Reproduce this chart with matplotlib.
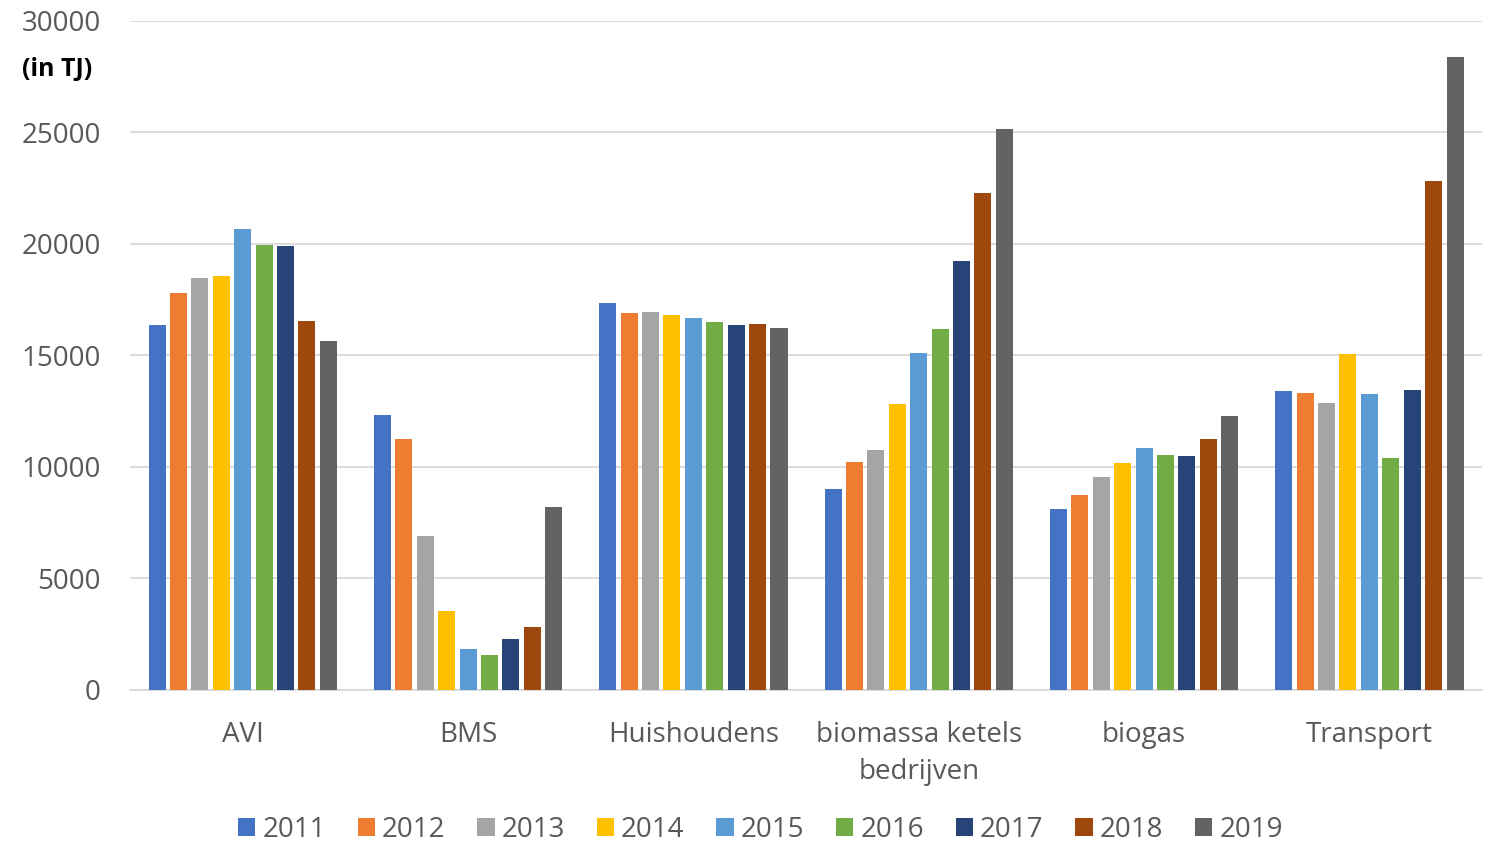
import matplotlib
matplotlib.use("Agg")
import matplotlib.pyplot as plt
import numpy as np

plt.rcParams['font.family'] = ['Open Sans', 'DejaVu Sans']

categories = ["AVI", "BMS", "Huishoudens", "biomassa ketels\nbedrijven", "biogas", "Transport"]
years = ["2011", "2012", "2013", "2014", "2015", "2016", "2017", "2018", "2019"]
values = {
    "2011": [16350, 12330, 17350, 9010, 8115, 13410],
    "2012": [17800, 11255, 16900, 10220, 8745, 13320],
    "2013": [18475, 6900, 16950, 10760, 9550, 12870],
    "2014": [18560, 3540, 16815, 12825, 10180, 15070],
    "2015": [20670, 1840, 16680, 15110, 10850, 13275],
    "2016": [19955, 1570, 16500, 16190, 10540, 10400],
    "2017": [19910, 2290, 16370, 19240, 10490, 13450],
    "2018": [16550, 2825, 16410, 22290, 11255, 22825],
    "2019": [15650, 8205, 16230, 25160, 12290, 28390],
}
colors = ["#4472C4", "#ED7D31", "#A5A5A5", "#FFC000", "#5B9BD5",
          "#70AD47", "#264478", "#9E480E", "#636363"]

fig = plt.figure(figsize=(14.91, 8.46), dpi=100)
ax = fig.add_axes([0.0872, 0.1844, 0.9068, 0.7908])

x = np.arange(len(categories))
pitch = 0.095
width = 0.0755
for i, y in enumerate(years):
    ax.bar(x + (i - 4) * pitch, values[y], width=width, color=colors[i], label=y, zorder=3)

ax.set_xlim(-0.5, len(categories) - 0.5)
ax.set_ylim(0, 30000)
ax.set_yticks(range(0, 30001, 5000))
ax.yaxis.grid(True, color="#D9D9D9", linewidth=1.3, zorder=0)
ax.set_axisbelow(True)
for s in ["top", "right", "left"]:
    ax.spines[s].set_visible(False)
ax.spines["bottom"].set_color("#D9D9D9")
ax.spines["bottom"].set_linewidth(1.3)
ax.tick_params(axis="y", length=0, labelsize=20, labelcolor="#595959", pad=21)
ax.tick_params(axis="x", length=0, labelsize=20, labelcolor="#595959", pad=22)
ax.set_xticks(x)
ax.set_xticklabels(categories, linespacing=1.45)

fig.text(0.015, 0.918, "(in TJ)", fontsize=18, fontweight="bold", color="black", va="center")

leg = fig.legend(loc="center", bbox_to_anchor=(0.51, 0.019), ncol=9, frameon=False,
                 fontsize=20, labelcolor="#595959", handlelength=0.62, handleheight=0.62,
                 handletextpad=0.25, columnspacing=1.15, borderaxespad=0, borderpad=0)
fig.savefig("out.png", dpi=100)
